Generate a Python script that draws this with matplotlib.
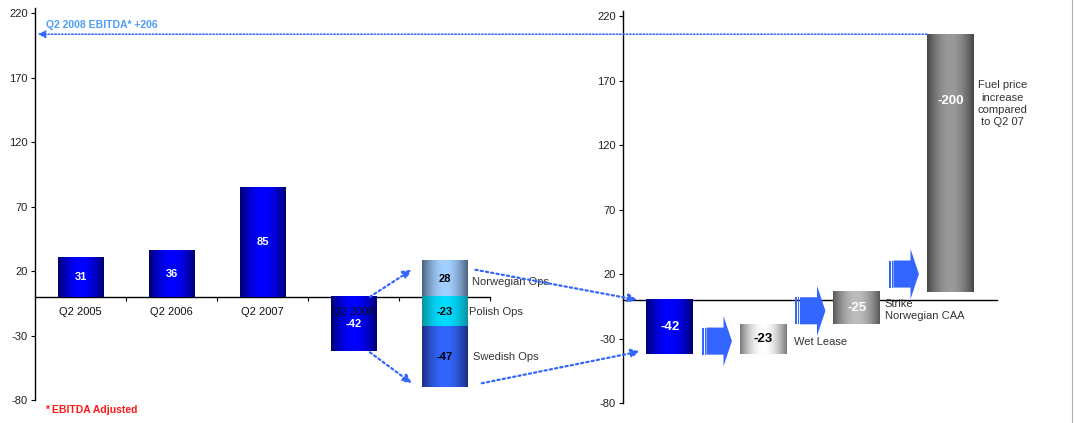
import numpy as np
import matplotlib
matplotlib.use("Agg")
import matplotlib.pyplot as plt
from matplotlib.patches import ConnectionPatch, Polygon, Rectangle
import matplotlib.transforms as mtransforms

plt.rcParams['font.family'] = ['Liberation Sans', 'DejaVu Sans']
plt.rcParams['axes.unicode_minus'] = False

# ---------------- data ----------------
hist_labels = ['Q2 2005', 'Q2 2006', 'Q2 2007', 'Q2 2008']
hist_values = [31, 36, 85, -42]
ops_labels = ['Norwegian Ops', 'Polish Ops', 'Swedish Ops']
ops_values = [28, -23, -47]
bridge_labels = ['', 'Wet Lease', 'Strike\nNorwegian CAA', 'Fuel price\nincrease\ncompared\nto Q2 07']
bridge_values = [-42, -23, -25, -200]
result_label = 'Q2 2008 EBITDA* +206'
result_value = 206
yticks = [-80, -30, 20, 70, 120, 170, 220]

# ---------------- styles ----------------
W, H = 1074, 423
fig = plt.figure(figsize=(W / 100, H / 100), dpi=100)
ax1 = fig.add_axes([35 / W, 23 / H, 455 / W, 392 / H])
ax2 = fig.add_axes([623 / W, 20 / H, 374 / W, 392 / H])

BLUE = ('#00006e', '#0000ff')
NOR = ('#4a5f7c', '#a3d0ff')
POL = ('#0a8f9c', '#00dcff')
SWE = ('#1a2c7a', '#3366ff')
GREY_WET = ('#777777', '#ffffff')
GREY_STR = ('#555555', '#bdbdbd')
GREY_FUEL = ('#444444', '#9a9a9a')
ARROW = '#3366ff'


def hex2rgb(h):
    h = h.lstrip('#')
    return np.array([int(h[i:i + 2], 16) / 255 for i in (0, 2, 4)])


def grad_bar(ax, x, height, bottom, cols, width=0.5):
    bar = ax.bar(x, height, width, bottom=bottom, color='none', linewidth=0, zorder=3)[0]
    t = np.linspace(0, 1, 200)
    w = np.sin(np.pi * t) ** 0.9
    e, c = hex2rgb(cols[0]), hex2rgb(cols[1])
    img = (e[None, :] + (c - e)[None, :] * w[:, None])[None, :, :]
    x0, y0 = bar.get_x(), bar.get_y()
    ext = (x0, x0 + bar.get_width(), y0, y0 + bar.get_height())
    ax.imshow(img, extent=ext, aspect='auto', interpolation='bilinear', zorder=3)
    return bar


for ax in (ax1, ax2):
    ax.spines['top'].set_visible(False)
    ax.spines['right'].set_visible(False)
    ax.spines['bottom'].set_position(('data', 0))
    ax.spines['left'].set_linewidth(1.0)
    ax.spines['bottom'].set_linewidth(1.0)
    ax.spines['bottom'].set_zorder(1)
    ax.set_yticks(yticks)
    ax.tick_params(axis='y', direction='out', length=3, width=0.8, labelsize=8,
                   labelcolor='#222222', pad=2)

# ---------------- left panel ----------------
for i, (lab, v) in enumerate(zip(hist_labels, hist_values)):
    grad_bar(ax1, i, v, 0, BLUE)
    ax1.text(i, v / 2, str(v), ha='center', va='center', color='white',
             fontsize=8, fontweight='bold', zorder=6)
    ax1.text(i, -12, lab, ha='center', va='center', color='#111111', fontsize=8, zorder=5)

ops_cols = [NOR, POL, SWE]
pos_base, neg_base = 0, 0
xo = len(hist_values)
for lab, v, cols in zip(ops_labels, ops_values, ops_cols):
    if v >= 0:
        bot = pos_base
        pos_base += v
    else:
        bot = neg_base
        neg_base += v
    grad_bar(ax1, xo, v, bot, cols)
    ax1.text(xo, bot + v / 2, str(v), ha='center', va='center', color='black',
             fontsize=8, fontweight='bold', zorder=6)
ops_lab_pos = [(4.30, 11.6), (4.27, -11.6), (4.31, -46.5)]
for lab, (lx, ly) in zip(ops_labels, ops_lab_pos):
    ax1.text(lx, ly, lab, ha='left', va='center', fontsize=8, color='#333333', zorder=6)

ax1.set_xlim(-0.5, 4.5)
ax1.set_ylim(-80, 224)
ax1.set_xticks([0.5, 1.5, 2.5, 3.5, 4.5])
ax1.set_xticklabels([])
ax1.tick_params(axis='x', direction='out', length=3, width=0.8)

# ---------------- right panel (bridge) ----------------
cur = 0
bridge_cols = [BLUE, GREY_WET, GREY_STR, GREY_FUEL]
bridge_txt = ['white', 'black', 'white', 'white']
label_frac = [0.5, 0.5, 0.5, 0.74]
for i, (v, cols, tc, fr) in enumerate(zip(bridge_values, bridge_cols, bridge_txt, label_frac)):
    if i == 0:
        bot, h = 0, v
        cur = v
    else:
        bot, h = cur, -v
        cur = cur - v
    grad_bar(ax2, i, h, bot, cols)
    ax2.text(i, bot + h * fr, str(v), ha='center', va='center', color=tc,
             fontsize=9.5, fontweight='bold', zorder=6)

ax2.text(1.33, -32.5, bridge_labels[1], ha='left', va='center', fontsize=8, color='#333333')
ax2.text(2.30, -8, bridge_labels[2], ha='left', va='center', fontsize=8, color='#333333',
         linespacing=1.3, zorder=6)
ax2.text(3.56, 152, bridge_labels[3], ha='center', va='center', fontsize=8, color='#333333',
         linespacing=1.3, clip_on=False)

ax2.set_xlim(-0.5, 3.5)
ax2.set_ylim(-80, 224)
ax2.set_xticks([])

# block arrows between bridge bars
arrow_y = [-32, -8.5, 20]
bh, hh = 21, 39
for i, yc in enumerate(arrow_y):
    x0 = i + 0.34
    for sx, sw in ((x0, 0.024), (x0 + 0.034, 0.011)):
        ax2.add_patch(Rectangle((sx, yc - bh / 2), sw, bh, color=ARROW, lw=0, zorder=4))
    poly = [(x0 + 0.052, yc - bh / 2), (x0 + 0.235, yc - bh / 2), (x0 + 0.235, yc - hh / 2),
            (x0 + 0.325, yc), (x0 + 0.235, yc + hh / 2), (x0 + 0.235, yc + bh / 2),
            (x0 + 0.052, yc + bh / 2)]
    ax2.add_patch(Polygon(poly, closed=True, color=ARROW, lw=0, zorder=4))

# ---------------- dotted connectors ----------------
dot = dict(arrowstyle='-|>,head_length=0.5,head_width=0.25', linestyle=(0, (1, 1.4)),
           linewidth=1.6, color=ARROW, mutation_scale=10, zorder=7)
conns = [
    ((3.18, 0), ax1, (3.64, 21), ax1),
    ((3.18, -43), ax1, (3.64, -67), ax1),
    ((4.34, 21), ax1, (-0.35, 0), ax2),
    ((4.41, -67), ax1, (-0.32, -40), ax2),
]
for a, axa, b, axb in conns:
    cp = ConnectionPatch(a, b, coordsA=axa.transData, coordsB=axb.transData,
                         shrinkA=0, shrinkB=0, **dot)
    fig.add_artist(cp)

blend = mtransforms.blended_transform_factory(ax1.transData, ax2.transData)
top_dot = dict(dot)
top_dot.update(linewidth=1.1, linestyle=(0, (1, 1.2)), mutation_scale=9)
cp = ConnectionPatch((2.75, result_value), (-0.47, result_value),
                     coordsA=ax2.transData, coordsB=blend, shrinkA=0, shrinkB=0, **top_dot)
fig.add_artist(cp)

ax1.text(-0.38, 211, result_label, ha='left', va='center', fontsize=7.5,
         fontweight='bold', color='#4f9cf9')
fig.text(45 / W, 1 - 410 / H, '* EBITDA Adjusted', ha='left', va='center',
         fontsize=7.5, fontweight='bold', color='#ff1a1a')

# right border line
fig.add_artist(plt.Line2D([1072 / W, 1072 / W], [0, 1], color='#b0b0b0', lw=0.8))

fig.savefig('out.png', dpi=100)
